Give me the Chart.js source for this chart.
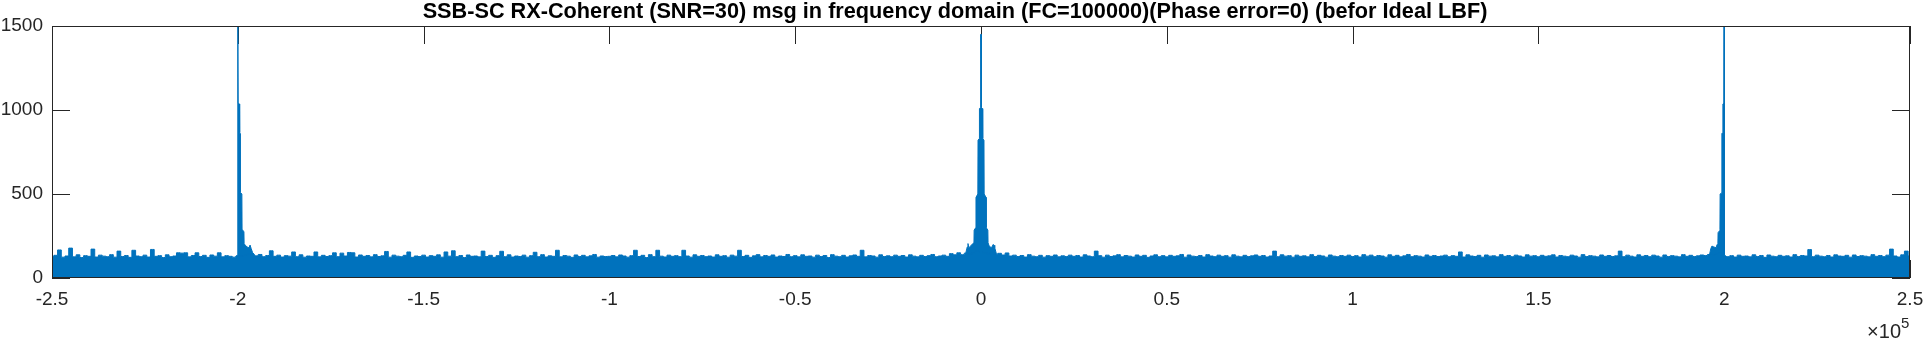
<!DOCTYPE html>
<html>
<head>
<meta charset="utf-8">
<script src="https://cdn.jsdelivr.net/npm/chart.js@4"></script>
<style>
  body { margin: 0; background: #fff; }
  #wrap { width: 1927px; height: 340px; }
</style>
</head>
<body>
<div id="wrap"><canvas id="myChart"></canvas></div>
<script>
// noise floor envelope, one value per 1000 Hz from -250000 to 250000
var floorStart = -250000;
var floorStep = 1000;
var floorMag = [
  128,135,167,124,131,178,126,138,122,133,129,172,125,136,130,127,139,124,160,128,134,123,165,131,127,
  136,125,170,129,133,122,138,127,131,150,148,150,126,134,150,128,135,123,137,130,150,126,133,129,124,
  131,128,136,145,138,132,140,127,134,162,129,136,125,133,130,155,127,138,124,131,129,155,126,135,128,
  133,150,127,148,131,152,150,125,137,129,134,126,139,128,132,158,124,136,130,127,135,155,123,131,128,
  136,125,133,129,138,124,155,130,162,127,134,122,137,129,131,126,160,128,135,123,133,159,127,138,125,
  131,128,136,124,133,153,127,139,125,132,129,165,126,134,130,123,137,128,135,126,132,140,124,131,128,
  129,134,126,137,131,124,133,165,128,135,122,139,127,165,130,125,136,129,133,127,165,131,124,138,129,
  134,127,131,125,138,129,133,124,136,130,165,128,135,123,132,139,126,134,129,137,125,131,128,140,127,
  133,126,138,129,131,124,136,128,134,122,139,130,127,135,125,132,137,129,165,126,134,131,124,138,128,
  132,127,136,129,134,125,138,130,126,135,128,133,140,127,131,136,129,145,138,150,139,148,142,150,160,
  155,150,145,152,141,147,137,149,131,136,128,134,125,139,130,127,135,124,133,129,137,126,132,128,136,
  129,134,125,138,131,127,160,133,124,136,128,132,139,126,134,130,125,137,129,135,123,131,138,127,133,
  126,135,129,132,140,124,137,130,128,134,125,139,131,127,136,129,133,124,138,130,126,135,128,132,137,
  129,134,125,131,160,127,138,130,133,124,136,129,132,126,139,128,135,131,124,137,130,127,134,129,136,
  128,133,125,139,130,136,127,134,131,124,138,129,135,126,132,140,127,133,130,125,137,129,134,128,131,
  136,127,133,129,155,125,138,131,128,135,124,137,130,132,126,139,129,134,127,136,131,125,138,130,133,
  127,135,129,132,138,125,134,130,127,136,131,124,139,128,133,130,126,137,129,134,128,132,160,127,136,
  130,125,138,129,134,127,136,131,124,137,128,133,130,126,139,129,135,128,132,137,134,140,138,145,150,
  130,127,133,125,136,129,131,126,138,128,134,123,137,130,127,135,129,132,125,139,128,134,131,169,127,
  136,130,127,134,125,138,131,129,135,124,137,128,133,130,126,139,129,134,127,136,172,131,125,138,160,
  132
];

// peak at -2e5 (tail to the right)
var peakAFreq = [-200600,-200100,-200050,-199950,-199900,-199550,-199500,-199400,-199350,-198900,-198850,-198350,-198300,-198000,-197500,-197000,-196700,-196400,-196000,-195500];
var peakAMag  = [128,135,1600,1600,1040,1036,865,860,510,500,290,275,205,195,185,180,196,175,150,140];

// peak at 0
var peakBFreq = [-4200,-3700,-3500,-3300,-2800,-2200,-1900,-1850,-1400,-1350,-850,-800,-460,-420,-150,-100,0,100,150,420,460,800,850,1350,1400,1850,1900,2200,2800,3300,3500,3700,4200];
var peakBMag  = [140,185,205,180,190,205,210,285,300,480,500,820,830,1008,1015,1450,1450,1450,1015,1008,830,820,500,480,300,285,210,190,180,200,195,180,140];

// peak at +2e5 (tail to the left)
var peakCFreq = [196000,196400,196700,197200,197800,198100,198300,198350,198700,198850,198900,199200,199350,199400,199600,199650,199900,199950,200050,200100,200600];
var peakCMag  = [135,175,190,185,180,200,205,270,280,290,500,505,510,860,865,1036,1040,1600,1600,135,128];

var xTickLabels = ["-2.5","-2","-1.5","-1","-0.5","0","0.5","1","1.5","2","2.5"];
var yTickValues = [0, 500, 1000, 1500];

var titleText = "SSB-SC RX-Coherent (SNR=30) msg in frequency domain (FC=100000)(Phase error=0) (befor Ideal LBF)";
var blue = "#0072BD";
var axisColor = "#262626";
var fontName = "'Liberation Sans', Arial, Helvetica, sans-serif";

// title in the reference is about 1066px wide, pick the font size that gives that
var measure = document.createElement("canvas").getContext("2d");
measure.font = "bold 20px " + fontName;
var titleSize = Math.round(20 * 1066 / measure.measureText(titleText).width * 10) / 10;

function toPoints(freqs, mags) {
    var pts = [];
    for (var i = 0; i < freqs.length; i++) {
        pts.push({ x: freqs[i], y: mags[i] });
    }
    return pts;
}

var floorFreq = [];
for (var i = 0; i < floorMag.length; i++) {
    floorFreq.push(floorStart + i * floorStep);
}

function spectrumSet(pts, stepped) {
    return {
        data: pts,
        borderColor: blue,
        backgroundColor: blue,
        borderWidth: 1,
        pointRadius: 0,
        fill: "origin",
        stepped: stepped,
        lineTension: 0
    };
}

var axesBox = {
    id: "axesBox",
    beforeDatasetsDraw: function (chart) {
        var c = chart.ctx, a = chart.chartArea;
        var xs = chart.scales.x, ys = chart.scales.y;
        var len = 18;
        c.save();
        c.strokeStyle = axisColor;
        c.lineWidth = 1;
        c.beginPath();
        xs.ticks.forEach(function (t) {
            var px = Math.round(xs.getPixelForValue(t.value)) + 0.5;
            c.moveTo(px, a.top); c.lineTo(px, a.top + len);
            c.moveTo(px, a.bottom); c.lineTo(px, a.bottom - len);
        });
        ys.ticks.forEach(function (t) {
            var py = Math.round(ys.getPixelForValue(t.value)) + 0.5;
            c.moveTo(a.left, py); c.lineTo(a.left + len, py);
            c.moveTo(a.right, py); c.lineTo(a.right - len, py);
        });
        c.stroke();
        c.restore();
    },
    afterDatasetsDraw: function (chart) {
        var c = chart.ctx, a = chart.chartArea;
        c.save();
        c.strokeStyle = axisColor;
        c.lineWidth = 1;
        c.strokeRect(a.left + 0.5, a.top + 0.5, a.right - a.left - 1, a.bottom - a.top - 1);
        c.restore();
    },
    afterDraw: function (chart) {
        var c = chart.ctx, a = chart.chartArea;
        var xs = chart.scales.x;
        c.save();
        c.fillStyle = axisColor;
        // x tick labels
        c.font = "19px " + fontName;
        c.textAlign = "center";
        c.textBaseline = "alphabetic";
        xs.ticks.forEach(function (t, i) {
            c.fillText(xTickLabels[i], xs.getPixelForValue(t.value), a.bottom + 27);
        });
        // exponent label
        c.font = "20px " + fontName;
        c.textAlign = "right";
        c.fillText("\u00d710", a.right - 9, 338);
        c.font = "15px " + fontName;
        c.textAlign = "left";
        c.fillText("5", a.right - 9, 328);
        c.restore();
    }
};

var ctx = document.getElementById("myChart");
var myChart = new Chart(ctx, {
    type: "line",
    data: {
        datasets: [
            spectrumSet(toPoints(floorFreq, floorMag), "middle"),
            spectrumSet(toPoints(peakAFreq, peakAMag), false),
            spectrumSet(toPoints(peakBFreq, peakBMag), false),
            spectrumSet(toPoints(peakCFreq, peakCMag), false)
        ]
    },
    options: {
        responsive: true,
        maintainAspectRatio: false,
        animation: false,
        layout: { padding: { top: 0, right: 17, left: 0, bottom: 0 } },
        plugins: {
            legend: { display: false },
            tooltip: { enabled: false },
            title: {
                display: true,
                text: titleText,
                color: "#000",
                font: { family: fontName, size: titleSize, weight: "bold", lineHeight: 24 / titleSize },
                padding: { top: 0, bottom: 2 }
            }
        },
        scales: {
            x: {
                type: "linear",
                min: -250000,
                max: 250000,
                afterFit: function (s) { s.height = 62; },
                afterBuildTicks: function (s) {
                    s.ticks = xTickLabels.map(function (l) { return { value: parseFloat(l) * 1e5 }; });
                },
                ticks: { display: false },
                grid: { display: false },
                border: { display: false }
            },
            y: {
                min: 0,
                max: 1500,
                afterFit: function (s) { s.width = 52; },
                afterBuildTicks: function (s) {
                    s.ticks = yTickValues.map(function (v) { return { value: v }; });
                },
                ticks: {
                    padding: 9,
                    color: axisColor,
                    font: { family: fontName, size: 19 },
                    callback: function (v) { return String(v); }
                },
                grid: { display: true, drawOnChartArea: false, drawTicks: false },
                border: { display: false }
            }
        }
    },
    plugins: [axesBox]
});
</script>
</body>
</html>
